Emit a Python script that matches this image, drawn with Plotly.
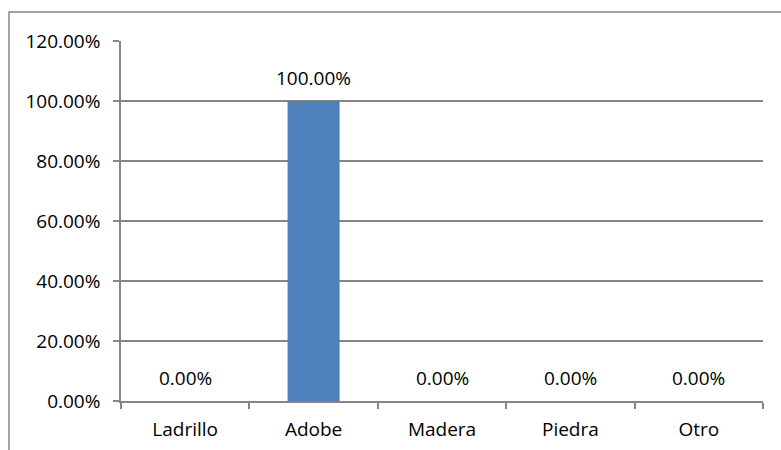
import plotly.graph_objects as go

# Material de construcción de las viviendas
categorias = ["Ladrillo", "Adobe", "Madera", "Piedra", "Otro"]
porcentajes = [0.0, 1.0, 0.0, 0.0, 0.0]
etiquetas = [f"{v * 100:.2f}%" for v in porcentajes]
ticks_y = [0, 0.2, 0.4, 0.6, 0.8, 1.0, 1.2]
ticks_y_texto = [f"{v * 100:.2f}%" for v in ticks_y]

W, H = 781, 450
L, R, T, B = 121, 18, 41, 49
GRIS = "#868686"
FUENTE = dict(family="'Open Sans', Lato, sans-serif", size=19, color="#000000")

fig = go.Figure()
fig.add_trace(go.Bar(
    x=categorias,
    y=porcentajes,
    marker=dict(color="#4F81BD", line=dict(width=0)),
    width=0.405,
    hoverinfo="skip",
))

# Etiquetas de valor sobre cada categoría
for c, v, t in zip(categorias, porcentajes, etiquetas):
    fig.add_annotation(x=c, y=v, text=t, showarrow=False, yanchor="bottom",
                       yshift=8, font=FUENTE)

pw, ph = W - L - R, H - T - B
# Marco exterior del gráfico
fig.add_shape(type="rect", xref="paper", yref="paper",
              x0=(9 - L) / pw, x1=(W + 5 - L) / pw,
              y0=-(H + 5 - T - ph) / ph, y1=(H - 12 - B) / ph,
              line=dict(color=GRIS, width=1.5), fillcolor="rgba(0,0,0,0)",
              layer="below")

fig.update_layout(
    width=W, height=H,
    margin=dict(l=L, r=R, t=T, b=B, autoexpand=False),
    paper_bgcolor="white", plot_bgcolor="white",
    showlegend=False,
    font=FUENTE,
    xaxis=dict(
        type="category", range=[-0.5, 4.5], automargin=False,
        showline=True, linecolor=GRIS, linewidth=1.5,
        ticks="outside", tickson="boundaries", ticklen=6, tickcolor=GRIS, tickwidth=1.5,
        showgrid=False, tickfont=FUENTE, ticklabelstandoff=10,
    ),
    yaxis=dict(
        range=[0, 1.2], tickvals=ticks_y, ticktext=ticks_y_texto, automargin=False,
        showline=True, linecolor=GRIS, linewidth=1.5,
        ticks="outside", ticklen=6, tickcolor=GRIS, tickwidth=1.5,
        showgrid=True, gridcolor=GRIS, gridwidth=1.5,
        zeroline=False, tickfont=FUENTE, ticklabelstandoff=9,
    ),
)

fig.write_html("out.html")
